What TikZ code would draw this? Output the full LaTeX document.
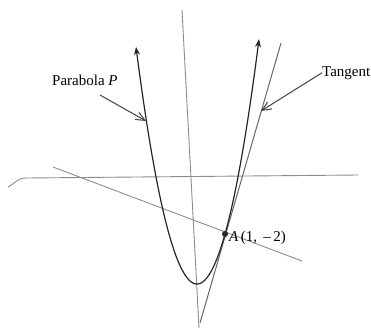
\documentclass[tikz,border=0pt]{standalone}
\usepackage{fontspec}
\setmainfont{Liberation Serif}
\usetikzlibrary{arrows.meta}
\begin{document}
\begin{tikzpicture}[x=1pt,y=-1pt,
  axisline/.style={draw=black!45,line width=0.9pt},
  curveline/.style={draw=black!85,line width=1.2pt},
  tangline/.style={draw=black!60,line width=1pt},
  pointer/.style={draw=black!75,line width=1pt,-{Straight Barb[length=9pt,width=8pt]}},
  lbl/.style={font=\fontsize{15}{17}\selectfont,inner sep=0pt}]
\useasboundingbox (0,0) rectangle (371,330);
% axes
\coordinate (ytop) at (182,10);
\coordinate (ybot) at (199,328);
\coordinate (xl) at (8,187);
\coordinate (xr) at (358,175);
\draw[axisline] (ytop) -- (ybot);
\draw[axisline] (xl) .. controls (16,183) and (17,178) .. (26,178) -- (xr);
% point A
\coordinate (A) at (225,234);
% normal line
\coordinate (nl) at (53,167);
\coordinate (nr) at (302,261);
\draw[axisline] (nl) -- (nr);
% tangent line
\coordinate (tb) at (200,323);
\coordinate (tt) at (281,43);
\draw[tangline] (tb) -- (tt);
% parabola
\draw[curveline,{Stealth[length=8pt,width=6pt]}-{Stealth[length=8pt,width=6pt]}]
  plot[domain=-61:62,samples=120] ({197+\x},{284-0.0637*\x*\x});
\fill[black!85] (A) circle (3pt);
% labels
\node[lbl,anchor=base west] (lp) at (52,85) {Parabola \textit{P}};
\node[lbl,anchor=base west] (lt) at (322,76) {Tangent};
\node[lbl,anchor=base west] (la) at (229,241) {\textit{A}\,(1,\ \,–\,2)};
% pointers
\coordinate (ps) at (100,95);
\coordinate (pp) at (146,121);
\coordinate (tp) at (261,111);
\draw[pointer] (ps) -- (pp);
\draw[pointer] (lt.west) -- (tp);
\end{tikzpicture}
\end{document}
